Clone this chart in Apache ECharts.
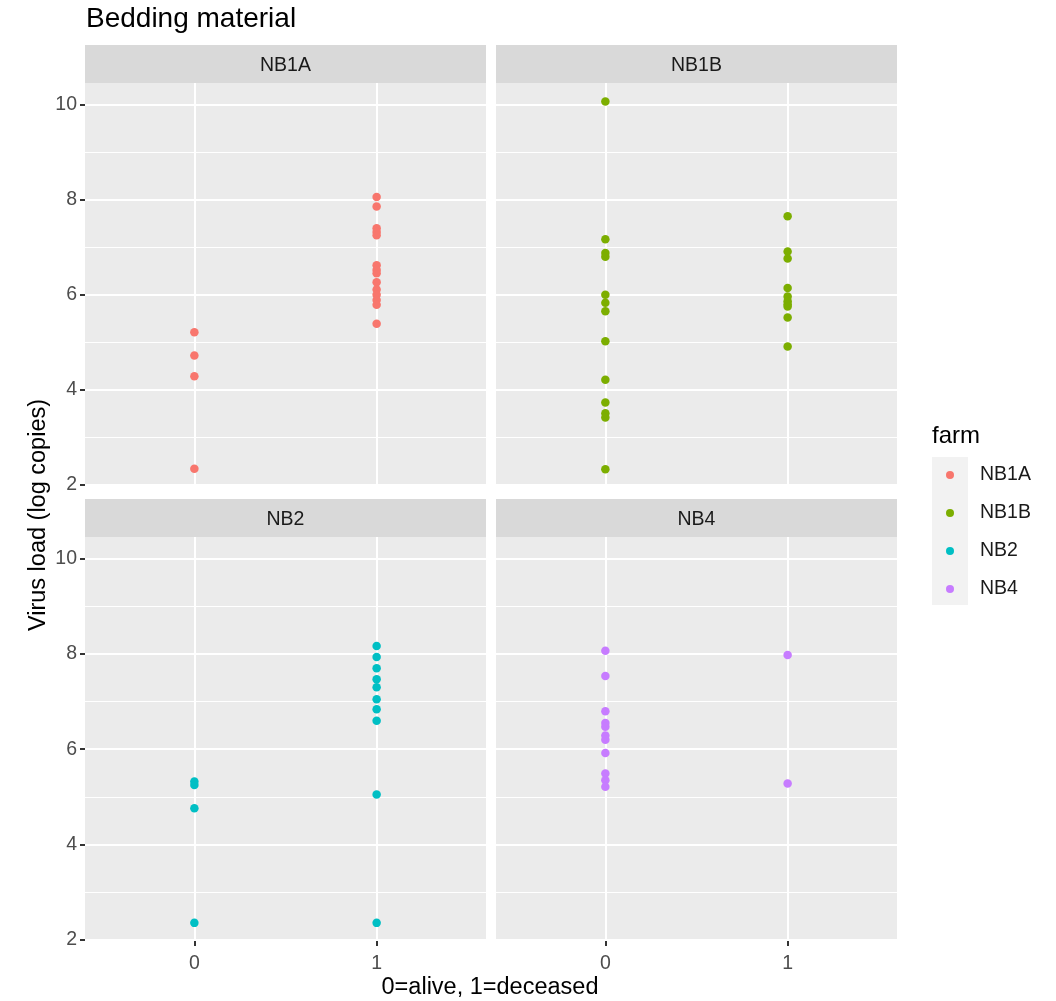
<!DOCTYPE html>
<html><head><meta charset="utf-8">
<script src="https://cdn.jsdelivr.net/npm/echarts@6/dist/echarts.min.js"></script>
<style>html,body{margin:0;padding:0;background:#fff}#c{width:1056px;height:1001px}</style>
</head><body><div id="c"></div>
<script>
const farms = ['NB1A', 'NB1B', 'NB2', 'NB4'];
const farmColors = ['#F8766D', '#7CAE00', '#00BFC4', '#C77CFF'];
const xTicks = [0, 1];
const yTicks = [2, 4, 6, 8, 10];
const yMinorTicks = [3, 5, 7, 9];
// values: x = 0 (alive), x = 1 (deceased)
const nb1aAlive = [5.21, 4.72, 4.28, 2.33];
const nb1aDeceased = [8.06, 7.86, 7.40, 7.32, 7.25, 6.62, 6.52, 6.45, 6.26, 6.11, 6.00, 5.89, 5.79, 5.39];
const nb1bAlive = [10.07, 7.17, 6.88, 6.80, 6.00, 5.83, 5.65, 5.02, 4.21, 3.73, 3.50, 3.41, 2.32];
const nb1bDeceased = [7.65, 6.91, 6.76, 6.14, 5.96, 5.86, 5.80, 5.75, 5.52, 4.91];
const nb2Alive = [5.32, 5.25, 4.76, 2.35];
const nb2Deceased = [8.17, 7.94, 7.70, 7.47, 7.30, 7.05, 6.84, 6.60, 5.05, 2.35];
const nb4Alive = [8.07, 7.54, 6.80, 6.55, 6.47, 6.29, 6.20, 5.92, 5.49, 5.35, 5.21];
const nb4Deceased = [7.98, 5.28];

const farmData = [
  [nb1aAlive, nb1aDeceased],
  [nb1bAlive, nb1bDeceased],
  [nb2Alive, nb2Deceased],
  [nb4Alive, nb4Deceased]
];

const FONT = '"Liberation Sans", Arial, sans-serif';
const Y_MIN = 1.99, Y_MAX = 10.46, X_MIN = -0.6, X_MAX = 1.6;

const grids = [
  {left: 85, top: 83, width: 401, height: 402},
  {left: 496, top: 83, width: 401, height: 402},
  {left: 85, top: 537, width: 401, height: 403},
  {left: 496, top: 537, width: 401, height: 403}
];
const strips = [
  {x: 85, y: 45}, {x: 496, y: 45}, {x: 85, y: 499}, {x: 496, y: 499}
];

const tickStyle = {color: '#333333', width: 2, opacity: 1};

const xAxes = grids.map((g, i) => {
  const bottom = i >= 2;
  return {
    type: 'value', gridIndex: i, min: X_MIN, max: X_MAX,
    splitLine: {show: false},
    axisLine: {show: bottom, onZero: false, lineStyle: {color: '#333', width: 0, opacity: 0}},
    axisTick: {show: bottom, inside: false, customValues: xTicks, length: 6, lineStyle: tickStyle},
    axisLabel: {show: bottom, customValues: xTicks, margin: 14,
      formatter: v => xTicks.includes(v) ? String(v) : '',
      color: '#4D4D4D', fontSize: 19.5, fontFamily: FONT}
  };
});
const yAxes = grids.map((g, i) => {
  const left = i % 2 === 0;
  return {
    type: 'value', gridIndex: i, min: Y_MIN, max: Y_MAX,
    splitLine: {show: false},
    axisLine: {show: left, onZero: false, lineStyle: {color: '#333', width: 0, opacity: 0}},
    axisTick: {show: left, inside: false, customValues: yTicks, length: 5, lineStyle: tickStyle},
    axisLabel: {show: left, customValues: yTicks, margin: 8,
      formatter: v => yTicks.includes(v) ? String(v) : '',
      color: '#4D4D4D', fontSize: 19.5, fontFamily: FONT}
  };
});

const gridSeries = grids.map((g, i) => ({
  type: 'line', xAxisIndex: i, yAxisIndex: i, data: [], silent: true, z: 1,
  markLine: {
    silent: true, z: 1, symbol: ['none', 'none'], label: {show: false}, animation: false,
    data: [
      ...yMinorTicks.map(v => ({yAxis: v, lineStyle: {color: '#fff', width: 1.2, type: 'solid'}})),
      ...yTicks.map(v => ({yAxis: v, lineStyle: {color: '#fff', width: 2, type: 'solid'}})),
      ...xTicks.map(v => ({xAxis: v, lineStyle: {color: '#fff', width: 2, type: 'solid'}}))
    ]
  }
}));

const pointSeries = farms.map((f, i) => ({
  name: f, type: 'scatter', xAxisIndex: i, yAxisIndex: i, z: 10,
  symbol: 'circle', symbolSize: 8.5,
  itemStyle: {color: farmColors[i], opacity: 1},
  data: farmData[i][0].map(v => [xTicks[0], v]).concat(farmData[i][1].map(v => [xTicks[1], v]))
}));

const graphics = [];
grids.forEach((g, i) => {
  graphics.push({type: 'rect', silent: true, z: -10, shape: {x: g.left, y: g.top, width: g.width, height: g.height}, style: {fill: '#EBEBEB'}});
  graphics.push({type: 'rect', silent: true, shape: {x: strips[i].x, y: strips[i].y, width: g.width, height: 38}, style: {fill: '#D9D9D9'}});
  graphics.push({type: 'text', silent: true, x: strips[i].x + g.width / 2, y: strips[i].y + 21,
    style: {text: farms[i], fill: '#1A1A1A', font: '19.5px ' + FONT, textAlign: 'center', textVerticalAlign: 'middle'}});
});
graphics.push({type: 'text', silent: true, x: 86, y: 19,
  style: {text: 'Bedding material', fill: '#000', font: '28px ' + FONT, textAlign: 'left', textVerticalAlign: 'middle'}});
graphics.push({type: 'text', silent: true, x: 490, y: 988,
  style: {text: '0=alive, 1=deceased', fill: '#000', font: '23.5px ' + FONT, textAlign: 'center', textVerticalAlign: 'middle'}});
graphics.push({type: 'text', silent: true, x: 39, y: 515, rotation: Math.PI / 2,
  style: {text: 'Virus load (log copies)', fill: '#000', font: '23.5px ' + FONT, textAlign: 'center', textVerticalAlign: 'middle'}});
graphics.push({type: 'text', silent: true, x: 932, y: 436,
  style: {text: 'farm', fill: '#000', font: '24px ' + FONT, textAlign: 'left', textVerticalAlign: 'middle'}});
graphics.push({type: 'rect', silent: true, z: -10, shape: {x: 932, y: 457, width: 36, height: 148}, style: {fill: '#F2F2F2'}});

const chart = echarts.init(document.getElementById('c'), null, {renderer: 'canvas'});
chart.setOption({
  animation: false,
  backgroundColor: '#fff',
  grid: grids.map(g => ({left: g.left, top: g.top, width: g.width, height: g.height, show: false, containLabel: false})),
  xAxis: xAxes,
  yAxis: yAxes,
  legend: {
    data: farms, orient: 'vertical', left: 946, top: 465, padding: 0,
    icon: 'circle', itemWidth: 8, itemHeight: 8, itemGap: 18,
    textStyle: {fontSize: 19.5, fontFamily: FONT, color: '#1A1A1A', lineHeight: 20, padding: [0, 0, 0, 21]},
    selectedMode: false
  },
  graphic: graphics,
  series: [...gridSeries, ...pointSeries]
});
</script></body></html>
